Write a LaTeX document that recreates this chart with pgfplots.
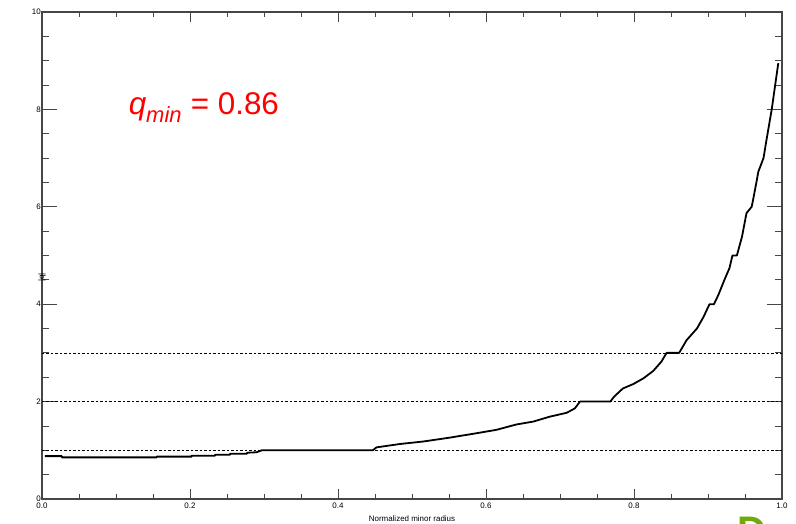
\documentclass[border=0pt]{standalone}
\usepackage{fontspec}
\setmainfont{Liberation Sans}
\usepackage{pgfplots}
\pgfplotsset{compat=1.18}
\definecolor{axgray}{RGB}{70,70,70}
\definecolor{slidegreen}{RGB}{110,170,10}
\begin{document}
\begin{tikzpicture}
\begin{axis}[
  scale only axis,
  width=740bp, height=487bp,
  at={(0,0)}, anchor=origin,
  xmin=0, xmax=1, ymin=0, ymax=10,
  xtick={0,0.2,0.4,0.6,0.8,1.0},
  ytick={0,2,4,6,8,10},
  minor x tick num=3,
  minor y tick num=3,
  tick align=inside,
  xtick style={axgray, line width=0.8bp, /pgfplots/major tick length=10bp, /pgfplots/minor tick length=5bp},
  ytick style={axgray, line width=0.8bp, /pgfplots/major tick length=15bp, /pgfplots/minor tick length=7.5bp},
  axis line style={axgray, line width=1.2bp},
  xticklabel style={/pgf/number format/fixed, /pgf/number format/fixed zerofill, /pgf/number format/precision=1, font=\fontsize{8}{9}\selectfont, inner sep=1bp, yshift=-3bp},
  yticklabel style={font=\fontsize{8}{9}\selectfont, inner sep=1bp},
  /pgf/number format/assume math mode=true,
  xlabel={Normalized minor radius},
  ylabel={|q|},
  xlabel style={font=\fontsize{8}{9}\selectfont, at={(axis description cs:0.5,0)}, anchor=center, yshift=-20bp},
  ylabel style={font=\fontsize{8}{9}\selectfont, at={(axis description cs:0,0.5)}, anchor=center, xshift=-22bp},
  clip=false,
]
\addplot[black, line width=0.7bp, dash pattern=on 2.5bp off 2bp] coordinates {(0,1) (1,1)};
\addplot[black, line width=0.7bp, dash pattern=on 2.5bp off 2bp] coordinates {(0,2) (1,2)};
\addplot[black, line width=0.7bp, dash pattern=on 2.5bp off 2bp] coordinates {(0,3) (1,3)};
\addplot[black, line width=1.8bp, line join=round] coordinates {
(0.004,0.88) (0.027,0.88) (0.027,0.855) (0.155,0.855) (0.155,0.87) (0.202,0.87)
(0.202,0.89) (0.234,0.89) (0.234,0.91) (0.254,0.91) (0.254,0.93) (0.277,0.93)
(0.277,0.95) (0.290,0.96) (0.297,1.0) (0.447,1.0) (0.452,1.06) (0.484,1.13)
(0.515,1.18) (0.551,1.26) (0.587,1.35) (0.614,1.42) (0.641,1.53) (0.664,1.59)
(0.686,1.69) (0.709,1.77) (0.720,1.86) (0.727,2.0) (0.768,2.0) (0.773,2.10)
(0.785,2.27) (0.799,2.36) (0.813,2.48) (0.826,2.63) (0.837,2.82) (0.844,3.0)
(0.861,3.0) (0.871,3.26) (0.885,3.50) (0.894,3.74) (0.902,4.0) (0.908,4.0)
(0.914,4.19) (0.923,4.53) (0.929,4.74) (0.933,5.0) (0.939,5.0) (0.946,5.39)
(0.952,5.87) (0.959,6.0) (0.961,6.15) (0.966,6.55) (0.968,6.72) (0.975,7.0)
(0.979,7.37) (0.986,7.99) (0.995,8.95)
};
\node[anchor=base west, inner sep=0pt, text=red, font=\fontsize{31.5}{32}\selectfont] at (axis cs:0.117,7.885) {\textit{q}\textsubscript{\textit{min}} = 0.86};
\end{axis}
\node[anchor=base west, inner sep=0pt, text=slidegreen, font=\fontsize{40}{40}\selectfont\bfseries] at (695bp,-45.6bp) {D};
\pgfresetboundingbox
\path[use as bounding box] (-42bp,-25bp) rectangle (754bp,499bp);
\end{tikzpicture}
\end{document}
